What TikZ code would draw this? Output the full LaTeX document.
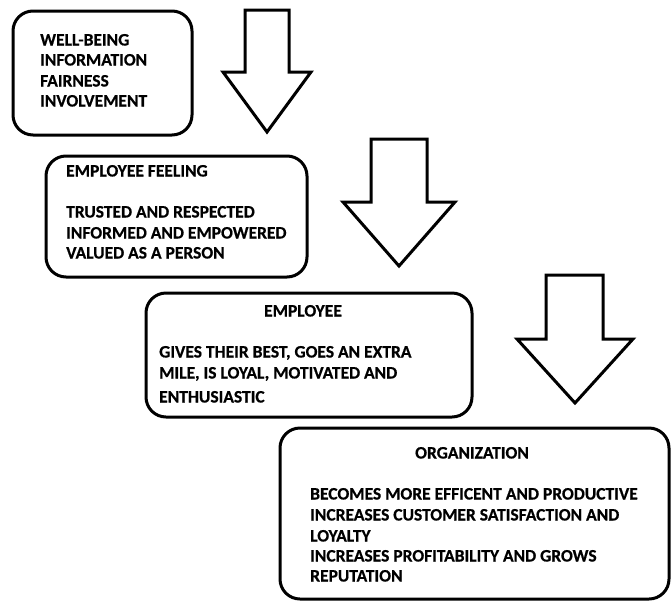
\documentclass[tikz,border=0pt]{standalone}
\usepackage{fontspec}
\setmainfont{Carlito}[BoldFeatures={FakeBold=0.6}]
\begin{document}
\begin{tikzpicture}[x=1pt,y=-1pt,
  box/.style={draw, line width=3pt, rounded corners=20pt, inner sep=0pt},
  arr/.style={draw, line width=3pt, line join=miter, fill=white},
  txt/.style={inner sep=0pt, anchor=base west, font=\fontsize{17.5}{20}\selectfont\bfseries, text=black},
  ttl/.style={txt, anchor=base}]
\useasboundingbox (0,0) rectangle (672,603);
% boxes
\node[box, minimum width=179pt, minimum height=124pt] (b1) at (102.5,73) {};
\node[box, minimum width=261pt, minimum height=121pt] (b2) at (176.5,216.5) {};
\node[box, minimum width=326pt, minimum height=124pt] (b3) at (309,355) {};
\node[box, minimum width=389pt, minimum height=171pt] (b4) at (474.5,513.5) {};
% arrows
\draw[arr] (245,10) -- (289,10) -- (289,72) -- (311,72) -- (267,132) -- (223,72) -- (245,72) -- cycle;
\draw[arr] (371,139) -- (427,139) -- (427,202) -- (455,202) -- (399,266) -- (343,202) -- (371,202) -- cycle;
\draw[arr] (546,275) -- (603,275) -- (603,339) -- (633,339) -- (575,403) -- (517,339) -- (546,339) -- cycle;
% box 1 text
\node[txt] (t1a) at (40,45.5) {WELL-BEING};
\node[txt] (t1b) at (40,65.5) {INFORMATION};
\node[txt] (t1c) at (40,86.5) {FAIRNESS};
\node[txt] (t1d) at (40,106.5) {INVOLVEMENT};
% box 2 text
\node[txt] (t2t) at (66,176.5) {EMPLOYEE FEELING};
\node[txt] (t2a) at (66,217.5) {TRUSTED AND RESPECTED};
\node[txt] (t2b) at (66,238.5) {INFORMED AND EMPOWERED};
\node[txt] (t2c) at (66,258.5) {VALUED AS A PERSON};
% box 3 text
\node[ttl] (t3t) at (303,316.5) {EMPLOYEE};
\node[txt] (t3a) at (159,357.5) {GIVES THEIR BEST, GOES AN EXTRA};
\node[txt] (t3b) at (159,378.5) {MILE, IS LOYAL, MOTIVATED AND};
\node[txt] (t3c) at (159,402.5) {ENTHUSIASTIC};
% box 4 text
\node[ttl] (t4t) at (472,458.5) {ORGANIZATION};
\node[txt] (t4a) at (310,499.5) {BECOMES MORE EFFICENT AND PRODUCTIVE};
\node[txt] (t4b) at (310,520.5) {INCREASES CUSTOMER SATISFACTION AND};
\node[txt] (t4c) at (310,541.5) {LOYALTY};
\node[txt] (t4d) at (310,561.5) {INCREASES PROFITABILITY AND GROWS};
\node[txt] (t4e) at (310,581.5) {REPUTATION};
\end{tikzpicture}
\end{document}
